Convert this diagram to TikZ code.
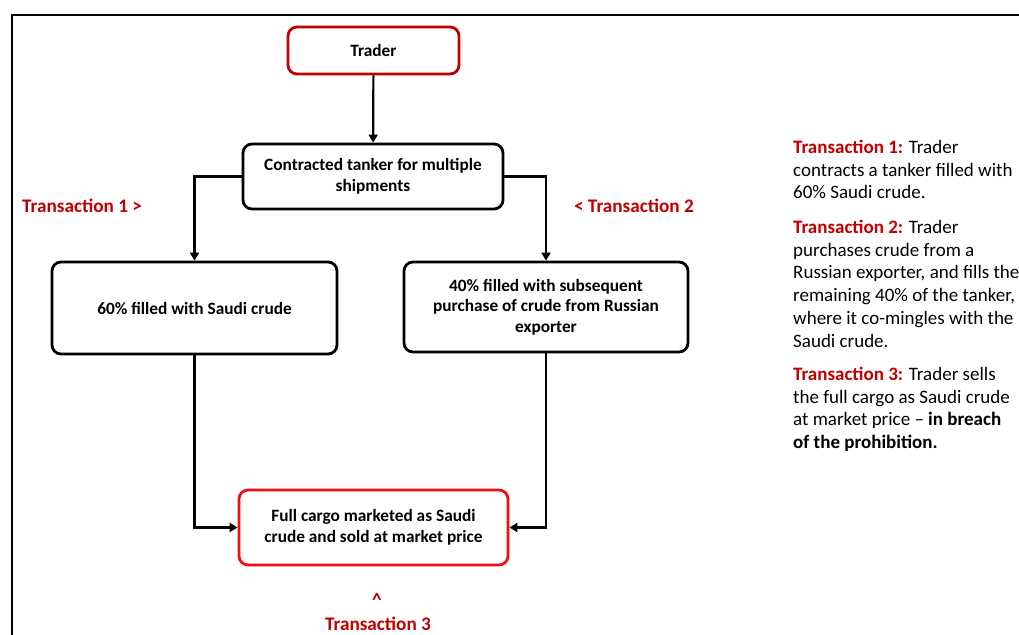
\documentclass[tikz,border=0pt]{standalone}
\usepackage{fontspec}
\setmainfont{Carlito}
\usetikzlibrary{arrows.meta}
\definecolor{dred}{HTML}{C00000}
\definecolor{bred}{HTML}{F01010}
\tikzset{
  box/.style={draw=black, line width=2.8pt, rounded corners=9pt, fill=white, align=center,
    font=\bfseries\fontsize{17.3}{20.5}\selectfont, inner sep=2pt},
  redbox/.style={box, draw=dred},
  brightbox/.style={box, draw=bred},
  arr/.style={line width=2.2pt, -{Triangle[length=8pt,width=9pt]}},
  lbl/.style={text=dred, font=\bfseries\fontsize{19.2}{22}\selectfont, inner sep=0pt},
  side/.style={anchor=north west, align=left, inner sep=0pt, font=\fontsize{19}{22.7}\selectfont}
}
\begin{document}
\begin{tikzpicture}[x=1pt, y=-1pt]
\useasboundingbox (0,0) rectangle (1019,634);
\fill[white] (0,0) rectangle (1019,634);
\draw[line width=2.4pt] (12,660) -- (12,15) -- (1040,15);

\node[redbox, minimum width=171pt, minimum height=47pt] (trader) at (373.5,50.5) {Trader};
\node[box, minimum width=260pt, minimum height=65pt] (tanker) at (373,176.5) {Contracted tanker for multiple\\shipments};
\node[box, minimum width=285pt, minimum height=92pt] (left) at (194.5,308) {60\% filled with Saudi crude};
\node[box, minimum width=284pt, minimum height=90pt] (right) at (546,307) {40\% filled with subsequent\\purchase of crude from Russian\\exporter};
\node[brightbox, minimum width=269pt, minimum height=75pt] (full) at (373.5,527.5) {Full cargo marketed as Saudi\\crude and sold at market price};

\draw[arr] (trader) -- (tanker);
\draw[arr] (tanker.west) -| (left.north);
\draw[arr] (tanker.east) -| (right.north);
\draw[arr] (left.south) |- (full.west);
\draw[arr] (right.south) |- (full.east);

\node[lbl, anchor=west] (t1) at (22,206) {Transaction 1 >};
\node[lbl, anchor=east] (t2) at (694,206) {< Transaction 2};
\node[lbl] (caret) at (377,600) {\textasciicircum};
\node[lbl] (t3) at (378,624) {Transaction 3};

\node[side] (p1) at (793,140) {\textcolor{dred}{\textbf{Transaction 1:}} Trader\\contracts a tanker filled with\\60\% Saudi crude.};
\node[side] (p2) at (793,220) {\textcolor{dred}{\textbf{Transaction 2:}} Trader\\purchases crude from a\\Russian exporter, and fills the\\remaining 40\% of the tanker,\\where it co-mingles with the\\Saudi crude.};
\node[side] (p3) at (793,367) {\textcolor{dred}{\textbf{Transaction 3:}} Trader sells\\the full cargo as Saudi crude\\at market price -- \textbf{in breach}\\\textbf{of the prohibition.}};
\end{tikzpicture}
\end{document}
